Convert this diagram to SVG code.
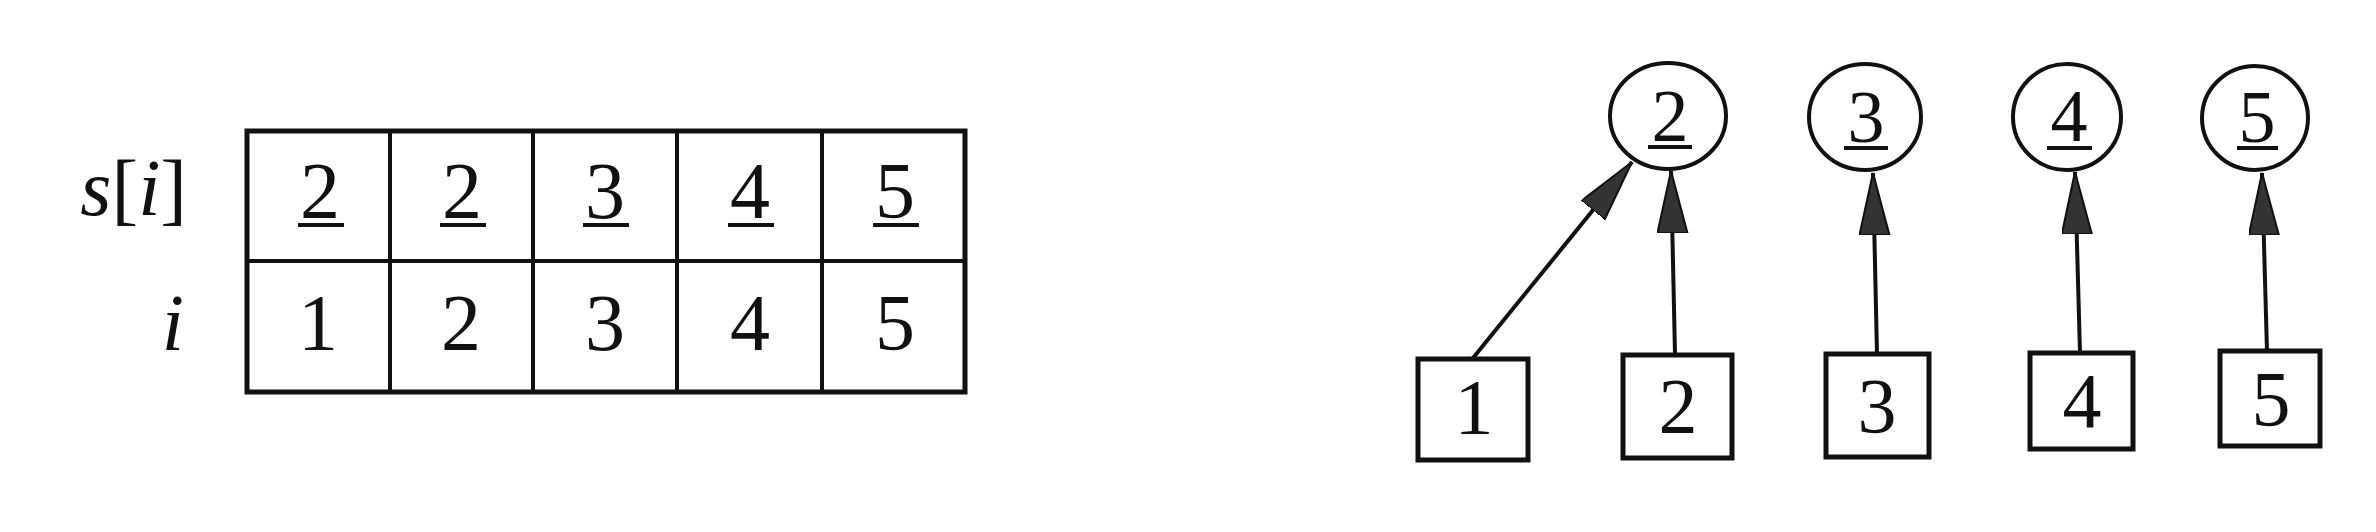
<svg xmlns="http://www.w3.org/2000/svg" width="2376" height="532" viewBox="0 0 2376 532">
<style>
  text { font-family: "Liberation Serif", "Times New Roman", serif; fill: #111; }
  .cell { font-size: 80px; text-anchor: middle; }
  .lbl { font-size: 80px; text-anchor: end; }
  .it { font-style: italic; }
  .num { font-size: 78px; text-anchor: middle; }
  .cnum { font-size: 74px; text-anchor: middle; }
  .ul { stroke: #111; stroke-width: 4; }
  .grid { fill: none; stroke: #111; stroke-width: 5; }
  .gl { stroke: #111; stroke-width: 4; }
  .box { fill: #fff; stroke: #111; stroke-width: 5; }
  .circ { fill: #fff; stroke: #111; stroke-width: 4; }
  .conn { stroke: #111; stroke-width: 4; fill: none; marker-end: url(#ah); }
</style>
<defs>
  <marker id="ah" markerUnits="userSpaceOnUse" markerWidth="66" markerHeight="34" refX="62" refY="15" orient="auto">
    <path d="M0,0 L62,15 L0,30 Z" fill="#333" stroke="#111" stroke-width="2"/>
  </marker>
</defs>
<rect width="2376" height="532" fill="#fff"/>

<g id="table">
  <rect class="grid" x="247" y="131" width="718" height="261"/>
  <line class="gl" x1="247" y1="261" x2="965" y2="261"/>
  <line class="gl" x1="390" y1="131" x2="390" y2="392"/>
  <line class="gl" x1="533" y1="131" x2="533" y2="392"/>
  <line class="gl" x1="677" y1="131" x2="677" y2="392"/>
  <line class="gl" x1="822" y1="131" x2="822" y2="392"/>
  <text class="lbl" x="187" y="215"><tspan class="it">s</tspan>[<tspan class="it">i</tspan>]</text>
  <text class="lbl it" x="184" y="350">i</text>
  <text class="cell" x="320" y="218">2</text>
  <text class="cell" x="462" y="218">2</text>
  <text class="cell" x="605" y="218">3</text>
  <text class="cell" x="750" y="218">4</text>
  <text class="cell" x="895" y="218">5</text>
  <line class="ul" x1="298" y1="225" x2="344" y2="225"/>
  <line class="ul" x1="440" y1="225" x2="486" y2="225"/>
  <line class="ul" x1="583" y1="225" x2="629" y2="225"/>
  <line class="ul" x1="728" y1="225" x2="774" y2="225"/>
  <line class="ul" x1="873" y1="225" x2="919" y2="225"/>
  <text class="cell" x="318" y="350">1</text>
  <text class="cell" x="461" y="350">2</text>
  <text class="cell" x="605" y="350">3</text>
  <text class="cell" x="750" y="350">4</text>
  <text class="cell" x="895" y="350">5</text>
</g>

<g id="root2">
  <ellipse class="circ" cx="1668" cy="116" rx="58" ry="53"/>
  <text class="cnum" x="1670" y="141">2</text>
  <line class="ul" x1="1648" y1="147" x2="1692" y2="147"/>
</g>
<g id="root3">
  <ellipse class="circ" cx="1865" cy="117" rx="56" ry="53"/>
  <text class="cnum" x="1866" y="142">3</text>
  <line class="ul" x1="1844" y1="148" x2="1888" y2="148"/>
</g>
<g id="root4">
  <ellipse class="circ" cx="2067" cy="117" rx="54" ry="53"/>
  <text class="cnum" x="2069" y="141">4</text>
  <line class="ul" x1="2047" y1="148" x2="2092" y2="148"/>
</g>
<g id="root5">
  <ellipse class="circ" cx="2255" cy="118" rx="53" ry="52"/>
  <text class="cnum" x="2257" y="142">5</text>
  <line class="ul" x1="2237" y1="148" x2="2278" y2="148"/>
</g>

<g id="connectors">
  <line class="conn" x1="1473" y1="358" x2="1632" y2="162"/>
  <line class="conn" x1="1675" y1="354" x2="1671" y2="171"/>
  <line class="conn" x1="1877" y1="354" x2="1873" y2="173"/>
  <line class="conn" x1="2080" y1="353" x2="2075" y2="172"/>
  <line class="conn" x1="2267" y1="351" x2="2262" y2="173"/>
</g>

<g id="box1">
  <rect class="box" x="1418" y="359" width="110" height="101"/>
  <text class="num" x="1474" y="433">1</text>
</g>
<g id="box2">
  <rect class="box" x="1623" y="355" width="109" height="103"/>
  <text class="num" x="1678" y="432">2</text>
</g>
<g id="box3">
  <rect class="box" x="1826" y="354" width="103" height="103"/>
  <text class="num" x="1877" y="432">3</text>
</g>
<g id="box4">
  <rect class="box" x="2030" y="353" width="103" height="96"/>
  <text class="num" x="2082" y="427">4</text>
</g>
<g id="box5">
  <rect class="box" x="2220" y="351" width="100" height="95"/>
  <text class="num" x="2271" y="425">5</text>
</g>
</svg>
